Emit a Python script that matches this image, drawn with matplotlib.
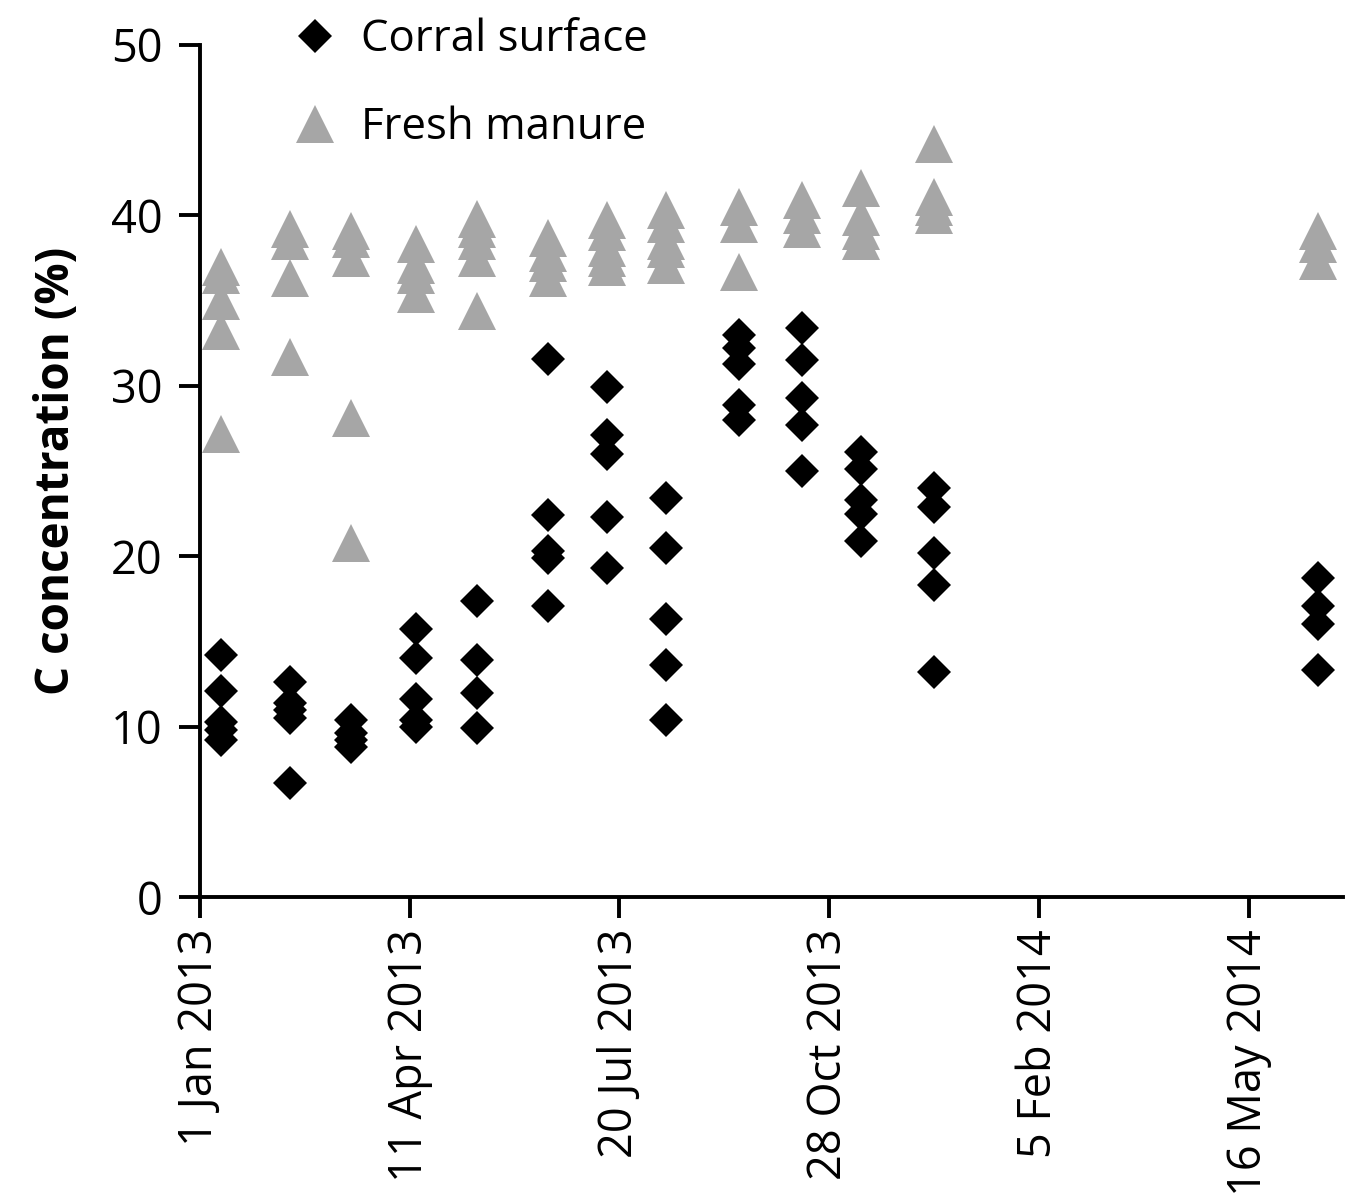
import datetime as dt

import matplotlib
matplotlib.use('Agg')
import matplotlib.pyplot as plt
import matplotlib.dates as mdates

plt.rcParams['font.family'] = ['Open Sans', 'DejaVu Sans']

# sampling dates (one column of points per date)
sample_dates = ['2013-01-11', '2013-02-13', '2013-03-14', '2013-04-14', '2013-05-13',
                '2013-06-16', '2013-07-14', '2013-08-11', '2013-09-15', '2013-10-15',
                '2013-11-12', '2013-12-17', '2014-06-18']

corral_surface = [
    [14.2, 12.1, 10.3, 9.8, 9.2],
    [12.6, 11.4, 11.0, 10.5, 6.7],
    [10.4, 9.6, 9.2, 8.8],
    [15.7, 14.0, 11.6, 10.4, 10.0],
    [17.4, 13.9, 12.0, 9.9],
    [31.6, 22.4, 20.3, 19.9, 17.1],
    [29.9, 27.1, 26.0, 22.3, 19.3],
    [23.4, 20.5, 16.3, 13.6, 10.4],
    [33.0, 32.2, 31.3, 28.9, 28.0],
    [33.4, 31.5, 29.3, 27.7, 25.0],
    [26.1, 25.1, 23.3, 22.5, 20.9],
    [24.0, 22.9, 20.2, 18.3, 13.2],
    [18.7, 17.1, 16.0, 13.3],
]

fresh_manure = [
    [37.0, 36.5, 35.0, 33.2, 27.2],
    [39.2, 38.5, 36.3, 31.7],
    [39.1, 38.6, 37.5, 28.1, 20.8],
    [38.3, 37.1, 36.5, 35.4],
    [39.8, 39.2, 38.5, 37.5, 34.4],
    [38.7, 37.8, 37.2, 36.3],
    [39.7, 39.0, 38.1, 37.5, 37.0],
    [40.3, 39.5, 38.5, 38.0, 37.1],
    [40.5, 39.5, 36.7],
    [40.9, 40.0, 39.2],
    [41.6, 39.9, 39.1, 38.5],
    [44.2, 41.1, 40.5, 40.0],
    [39.1, 38.3, 37.3],
]

tick_dates = ['2013-01-01', '2013-04-11', '2013-07-20', '2013-10-28', '2014-02-05', '2014-05-16']
tick_labels = ['1 Jan 2013', '11 Apr 2013', '20 Jul 2013', '28 Oct 2013', '5 Feb 2014', '16 May 2014']


def to_date(s):
    return dt.datetime.strptime(s, '%Y-%m-%d')


def flatten(dates, groups):
    xs, ys = [], []
    for d, vals in zip(dates, groups):
        for v in vals:
            xs.append(to_date(d))
            ys.append(v)
    return xs, ys


fig = plt.figure(figsize=(13.47, 12.02), dpi=100)
ax = fig.add_axes([0.1485, 0.2537, 0.8485, 0.7089])

mx, my = flatten(sample_dates, fresh_manure)
cx, cy = flatten(sample_dates, corral_surface)
ax.plot(cx, cy, linestyle='None', marker='D', markersize=17.5,
        color='black', markeredgewidth=0, label='Corral surface')
ax.plot(mx, my, linestyle='None', marker='^', markersize=28,
        color='#A6A6A6', markeredgewidth=0, label='Fresh manure')

ax.set_xlim(to_date('2013-01-01'), to_date('2014-06-30'))
ax.set_ylim(0, 50)
ax.set_yticks([0, 10, 20, 30, 40, 50])
ax.set_xticks([mdates.date2num(to_date(d)) for d in tick_dates])
ax.set_xticklabels(tick_labels, rotation=90)

for side in ['top', 'right']:
    ax.spines[side].set_visible(False)
for side in ['left', 'bottom']:
    ax.spines[side].set_linewidth(2.8)
ax.tick_params(axis='both', direction='out', length=15, width=2.8,
               labelsize=32.5)
ax.tick_params(axis='y', pad=12)
ax.tick_params(axis='x', pad=8)

ax.set_ylabel('C concentration (%)', fontsize=33, fontweight='bold', labelpad=22)

handles, labels = ax.get_legend_handles_labels()
ax.legend(handles, labels, loc='upper left', bbox_to_anchor=(0.187, 1.018),
          bbox_transform=fig.transFigure, frameon=False, fontsize=31.5,
          labelspacing=1.0, handletextpad=0.5, handlelength=1.1,
          markerscale=1.0)

fig.savefig('out.png', dpi=100)
